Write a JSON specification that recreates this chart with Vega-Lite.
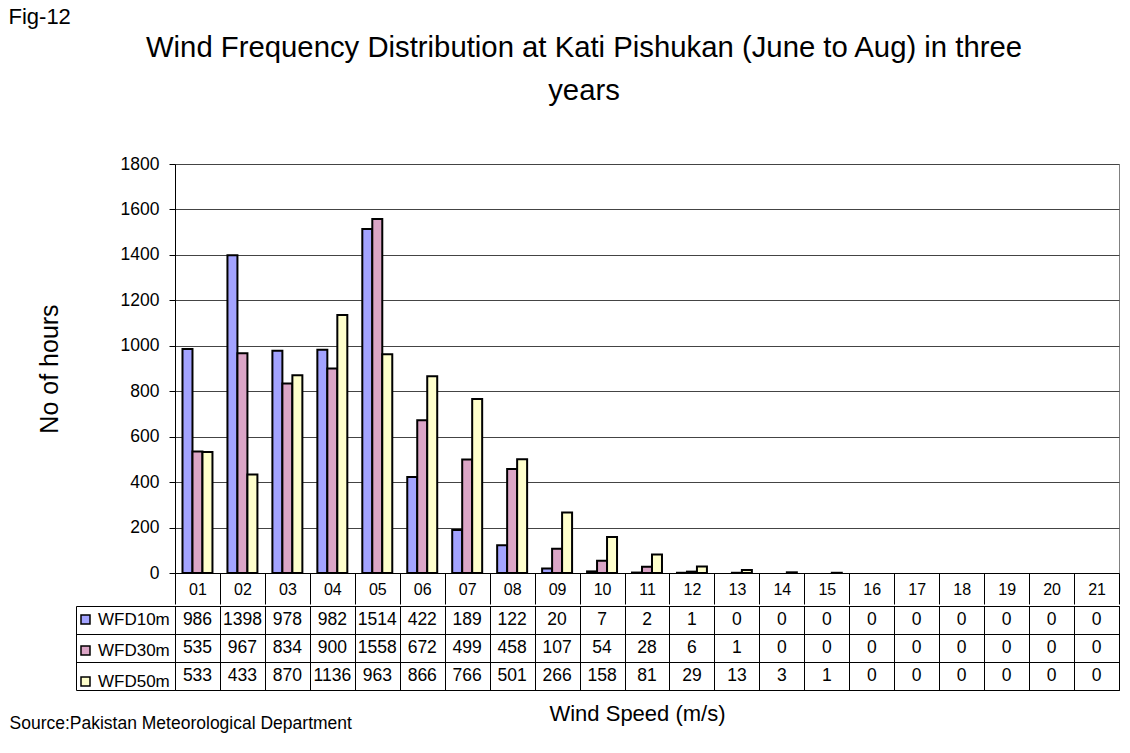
{
  "$schema": "https://vega.github.io/schema/vega-lite/v6.json",
  "background": "white",
  "padding": {"left": 8, "top": 6, "right": 8, "bottom": 5},
  "title": {"text": "Fig-12", "anchor": "start", "frame": "bounds", "fontSize": 22, "fontWeight": "normal", "font": "Liberation Sans", "color": "black", "offset": 4},
  "config": {
    "font": "Liberation Sans",
    "view": {"stroke": null},
    "axis": {"labelFont": "Liberation Sans", "titleFont": "Liberation Sans", "labelColor": "black", "titleColor": "black", "titleFontWeight": "normal"},
    "legend": {"labelFont": "Liberation Sans", "labelColor": "black"}
  },
  "datasets": {
    "wfd": [
      {"speed": "01", "series": "WFD10m", "value": 986}, {"speed": "02", "series": "WFD10m", "value": 1398}, {"speed": "03", "series": "WFD10m", "value": 978},
      {"speed": "04", "series": "WFD10m", "value": 982}, {"speed": "05", "series": "WFD10m", "value": 1514}, {"speed": "06", "series": "WFD10m", "value": 422},
      {"speed": "07", "series": "WFD10m", "value": 189}, {"speed": "08", "series": "WFD10m", "value": 122}, {"speed": "09", "series": "WFD10m", "value": 20},
      {"speed": "10", "series": "WFD10m", "value": 7}, {"speed": "11", "series": "WFD10m", "value": 2}, {"speed": "12", "series": "WFD10m", "value": 1},
      {"speed": "13", "series": "WFD10m", "value": 0}, {"speed": "14", "series": "WFD10m", "value": 0}, {"speed": "15", "series": "WFD10m", "value": 0},
      {"speed": "16", "series": "WFD10m", "value": 0}, {"speed": "17", "series": "WFD10m", "value": 0}, {"speed": "18", "series": "WFD10m", "value": 0},
      {"speed": "19", "series": "WFD10m", "value": 0}, {"speed": "20", "series": "WFD10m", "value": 0}, {"speed": "21", "series": "WFD10m", "value": 0},
      {"speed": "01", "series": "WFD30m", "value": 535}, {"speed": "02", "series": "WFD30m", "value": 967}, {"speed": "03", "series": "WFD30m", "value": 834},
      {"speed": "04", "series": "WFD30m", "value": 900}, {"speed": "05", "series": "WFD30m", "value": 1558}, {"speed": "06", "series": "WFD30m", "value": 672},
      {"speed": "07", "series": "WFD30m", "value": 499}, {"speed": "08", "series": "WFD30m", "value": 458}, {"speed": "09", "series": "WFD30m", "value": 107},
      {"speed": "10", "series": "WFD30m", "value": 54}, {"speed": "11", "series": "WFD30m", "value": 28}, {"speed": "12", "series": "WFD30m", "value": 6},
      {"speed": "13", "series": "WFD30m", "value": 1}, {"speed": "14", "series": "WFD30m", "value": 0}, {"speed": "15", "series": "WFD30m", "value": 0},
      {"speed": "16", "series": "WFD30m", "value": 0}, {"speed": "17", "series": "WFD30m", "value": 0}, {"speed": "18", "series": "WFD30m", "value": 0},
      {"speed": "19", "series": "WFD30m", "value": 0}, {"speed": "20", "series": "WFD30m", "value": 0}, {"speed": "21", "series": "WFD30m", "value": 0},
      {"speed": "01", "series": "WFD50m", "value": 533}, {"speed": "02", "series": "WFD50m", "value": 433}, {"speed": "03", "series": "WFD50m", "value": 870},
      {"speed": "04", "series": "WFD50m", "value": 1136}, {"speed": "05", "series": "WFD50m", "value": 963}, {"speed": "06", "series": "WFD50m", "value": 866},
      {"speed": "07", "series": "WFD50m", "value": 766}, {"speed": "08", "series": "WFD50m", "value": 501}, {"speed": "09", "series": "WFD50m", "value": 266},
      {"speed": "10", "series": "WFD50m", "value": 158}, {"speed": "11", "series": "WFD50m", "value": 81}, {"speed": "12", "series": "WFD50m", "value": 29},
      {"speed": "13", "series": "WFD50m", "value": 13}, {"speed": "14", "series": "WFD50m", "value": 3}, {"speed": "15", "series": "WFD50m", "value": 1},
      {"speed": "16", "series": "WFD50m", "value": 0}, {"speed": "17", "series": "WFD50m", "value": 0}, {"speed": "18", "series": "WFD50m", "value": 0},
      {"speed": "19", "series": "WFD50m", "value": 0}, {"speed": "20", "series": "WFD50m", "value": 0}, {"speed": "21", "series": "WFD50m", "value": 0}
    ]
  },
  "spacing": 0,
  "resolve": {"scale": {"x": "independent", "y": "independent"}},
  "vconcat": [
    {
      "width": 944,
      "height": 409,
      "data": {"name": "wfd"},
      "title": {
        "text": ["Wind Frequency Distribution at Kati Pishukan (June to Aug) in three", "years"],
        "fontSize": 29.3, "fontWeight": "normal", "font": "Liberation Sans", "color": "black",
        "anchor": "middle", "frame": "group", "dx": -63, "lineHeight": 43, "offset": 49
      },
      "view": {"stroke": "#808080"},
      "mark": {"type": "bar", "stroke": "black", "strokeWidth": 2},
      "encoding": {
        "x": {
          "field": "speed", "type": "nominal", "sort": null,
          "scale": {"paddingInner": 0, "paddingOuter": 0},
          "axis": {"title": null, "labelAngle": 0, "tickBand": "extent", "tickSize": 31, "tickColor": "black", "domainColor": "black", "labelFontSize": 16, "labelBaseline": "middle", "labelPadding": -15, "grid": false, "labelOverlap": false}
        },
        "xOffset": {"field": "series", "type": "nominal", "sort": null, "scale": {"paddingInner": 0, "paddingOuter": 0.75}},
        "y": {
          "field": "value", "type": "quantitative", "stack": null,
          "scale": {"domain": [0, 1800], "nice": false},
          "axis": {"values": [0, 200, 400, 600, 800, 1000, 1200, 1400, 1600, 1800], "format": "d", "grid": true, "gridColor": "#444444", "tickSize": 6, "tickColor": "black", "domainColor": "black", "labelFontSize": 17.5, "labelPadding": 10, "title": "No of hours", "titleFontSize": 25, "titlePadding": 58}
        },
        "fill": {
          "field": "series", "type": "nominal", "sort": null,
          "scale": {"domain": ["WFD10m", "WFD30m", "WFD50m"], "range": ["#A3A3FF", "#DBA5C6", "#FFFFCC"]},
          "legend": {"orient": "none", "legendX": -98, "legendY": 447, "title": null, "symbolType": "square", "symbolSize": 81, "symbolStrokeColor": "black", "symbolStrokeWidth": 1.5, "labelFontSize": 17, "labelOffset": 4, "rowPadding": 13, "direction": "vertical", "padding": 0}
        },
        "strokeOpacity": {"condition": {"test": "datum.value == 0", "value": 0}, "value": 1}
      }
    },
    {
      "width": 944,
      "height": 84,
      "data": {"name": "wfd"},
      "view": {"stroke": "black"},
      "mark": {"type": "text", "fontSize": 17.5, "font": "Liberation Sans", "color": "black"},
      "encoding": {
        "x": {
          "field": "speed", "type": "nominal", "sort": null,
          "scale": {"paddingInner": 0, "paddingOuter": 0},
          "axis": {"labels": false, "ticks": false, "domain": false, "grid": true, "tickBand": "extent", "gridColor": "black", "title": "Wind Speed (m/s)", "titleFontSize": 22, "titlePadding": 13, "titleX": 462, "titleAlign": "center"}
        },
        "y": {
          "field": "series", "type": "nominal", "sort": null,
          "axis": {"labels": false, "offset": 99, "domain": true, "domainColor": "black", "ticks": true, "tickSize": -99, "tickColor": "black", "tickBand": "extent", "grid": true, "gridColor": "black", "title": "Source:Pakistan Meteorological Department", "titleAngle": 0, "titleX": -67, "titleY": 117, "titleAlign": "left", "titleBaseline": "middle", "titleFontSize": 17.5}
        },
        "text": {"field": "value", "type": "quantitative", "format": "d"}
      }
    }
  ]
}
